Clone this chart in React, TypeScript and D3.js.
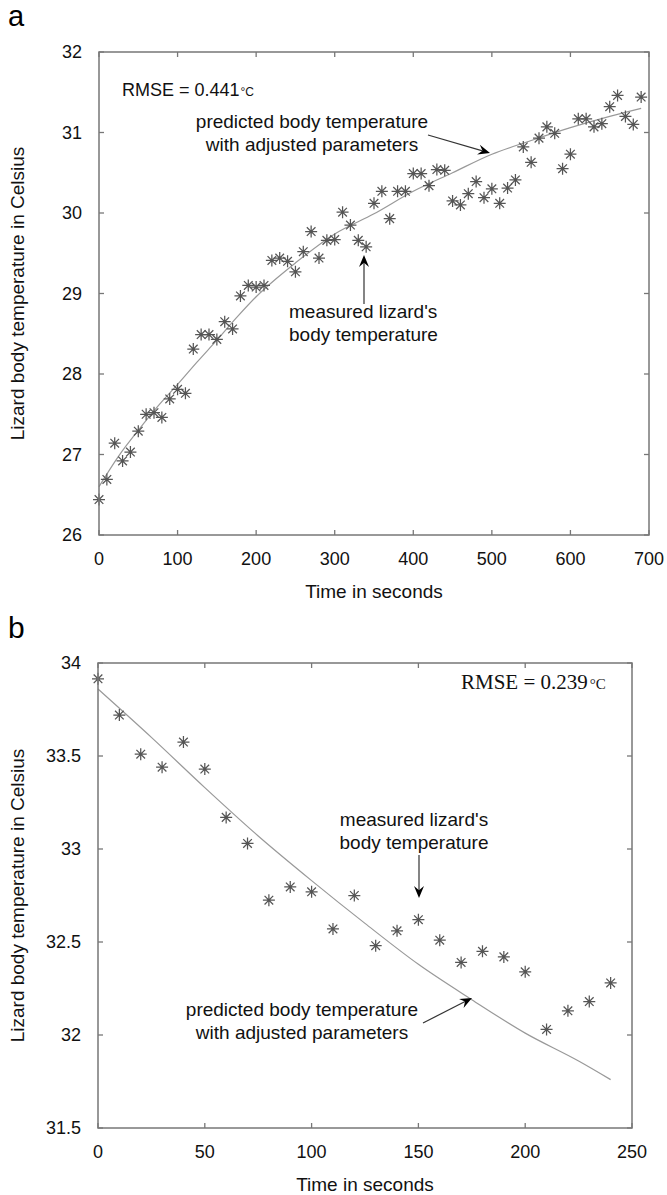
import React, { useRef, useEffect } from "react";
import * as d3 from "d3";

// panel a: measured body temperature every 10 s
const timeA = [0, 10, 20, 30, 40, 50, 60, 70, 80, 90, 100, 110, 120, 130, 140, 150, 160, 170, 180, 190,
  200, 210, 220, 230, 240, 250, 260, 270, 280, 290, 300, 310, 320, 330, 340, 350, 360, 370, 380, 390,
  400, 410, 420, 430, 440, 450, 460, 470, 480, 490, 500, 510, 520, 530, 540, 550, 560, 570, 580, 590,
  600, 610, 620, 630, 640, 650, 660, 670, 680, 690];
const measuredA = [26.44, 26.69, 27.14, 26.92, 27.03, 27.29, 27.5, 27.52, 27.46, 27.69, 27.81, 27.76, 28.31, 28.49, 28.49, 28.43, 28.65, 28.56, 28.97, 29.1,
  29.08, 29.1, 29.41, 29.44, 29.4, 29.27, 29.52, 29.77, 29.44, 29.66, 29.67, 30.01, 29.85, 29.66, 29.58, 30.12, 30.27, 29.93, 30.27, 30.27,
  30.49, 30.49, 30.34, 30.54, 30.53, 30.15, 30.1, 30.24, 30.39, 30.19, 30.3, 30.12, 30.31, 30.41, 30.82, 30.63, 30.93, 31.07, 30.99, 30.55,
  30.73, 31.17, 31.17, 31.07, 31.11, 31.32, 31.46, 31.2, 31.1, 31.44];
const predTimeA = [0, 25, 50, 75, 100, 125, 150, 175, 200, 225, 250, 300, 350, 400, 450, 500, 550, 600, 650, 690];
const predictedA = [26.6, 26.98, 27.3, 27.6, 27.87, 28.15, 28.42, 28.7, 28.96, 29.18, 29.38, 29.74, 29.99, 30.27, 30.5, 30.73, 30.9, 31.06, 31.2, 31.3];
const xTicksA = [0, 100, 200, 300, 400, 500, 600, 700];
const yTicksA = [26, 27, 28, 29, 30, 31, 32];

// panel b
const timeB = [0, 10, 20, 30, 40, 50, 60, 70, 80, 90, 100, 110, 120, 130, 140, 150, 160, 170, 180, 190, 200, 210, 220, 230, 240];
const measuredB = [33.915, 33.72, 33.51, 33.44, 33.575, 33.43, 33.17, 33.03, 32.725, 32.796, 32.77, 32.57, 32.75, 32.48, 32.56, 32.62,
  32.51, 32.39, 32.45, 32.42, 32.34, 32.03, 32.13, 32.18, 32.28];
const predTimeB = [0, 25, 50, 75, 100, 125, 150, 175, 200, 225, 240];
const predictedB = [33.86, 33.6, 33.33, 33.07, 32.83, 32.6, 32.38, 32.19, 32.01, 31.86, 31.76];
const xTicksB = [0, 50, 100, 150, 200, 250];
const yTicksB = [31.5, 32, 32.5, 33, 33.5, 34];

const SANS = "'Liberation Sans', Arial, sans-serif";
const SERIF = "'Liberation Serif', 'Times New Roman', serif";

const drawArrow = (g, x1, y1, x2, y2) => {
  const ang = Math.atan2(y2 - y1, x2 - x1);
  const L = 12, W = 5;
  const cx = Math.cos(ang), sx = Math.sin(ang);
  const bx = x2 - L * cx, by = y2 - L * sx;
  const nx = x2 - L * 0.65 * cx, ny = y2 - L * 0.65 * sx;
  g.append("line").attr("x1", x1).attr("y1", y1).attr("x2", nx).attr("y2", ny)
    .attr("stroke", "#333").attr("stroke-width", 1.2);
  g.append("path")
    .attr("d", `M${x2},${y2} L${bx - W * sx},${by + W * cx} L${nx},${ny} L${bx + W * sx},${by - W * cx} Z`)
    .attr("fill", "#000");
};

const drawPanel = (svg, cfg) => {
  const { x0, x1, y0, y1, xDom, yDom, xTicks, yTicks, t, m, pt, p } = cfg;
  const x = d3.scaleLinear().domain(xDom).range([x0, x1]);
  const y = d3.scaleLinear().domain(yDom).range([y1, y0]);
  const g = svg.append("g");

  // curve
  const line = d3.line().x((d) => x(d[0])).y((d) => y(d[1])).curve(d3.curveMonotoneX);
  g.append("path").datum(pt.map((v, i) => [v, p[i]]))
    .attr("d", line).attr("fill", "none").attr("stroke", "#999").attr("stroke-width", 1.2);

  // asterisk markers
  const r = 6, rd = r * 0.72;
  const star = `M0,${-r}V${r}M${-r},0H${r}M${-rd},${-rd}L${rd},${rd}M${-rd},${rd}L${rd},${-rd}`;
  g.selectAll(".pt").data(t.map((v, i) => [v, m[i]])).enter().append("path")
    .attr("transform", (d) => `translate(${x(d[0])},${y(d[1])})`)
    .attr("d", star).attr("stroke", "#555").attr("stroke-width", 1.25).attr("fill", "none");

  // box
  g.append("rect").attr("x", x0).attr("y", y0).attr("width", x1 - x0).attr("height", y1 - y0)
    .attr("fill", "none").attr("stroke", "#777").attr("stroke-width", 1.5);

  // inward ticks on all sides
  const tl = 5;
  xTicks.forEach((v) => {
    g.append("line").attr("x1", x(v)).attr("x2", x(v)).attr("y1", y1).attr("y2", y1 - tl).attr("stroke", "#777").attr("stroke-width", 1.3);
    g.append("line").attr("x1", x(v)).attr("x2", x(v)).attr("y1", y0).attr("y2", y0 + tl).attr("stroke", "#777").attr("stroke-width", 1.3);
    g.append("text").attr("x", x(v)).attr("y", y1 + 30).attr("text-anchor", "middle")
      .attr("font-family", SANS).attr("font-size", 18).attr("fill", "#111").text(v);
  });
  yTicks.forEach((v) => {
    g.append("line").attr("x1", x0).attr("x2", x0 + tl).attr("y1", y(v)).attr("y2", y(v)).attr("stroke", "#777").attr("stroke-width", 1.3);
    g.append("line").attr("x1", x1).attr("x2", x1 - tl).attr("y1", y(v)).attr("y2", y(v)).attr("stroke", "#777").attr("stroke-width", 1.3);
    g.append("text").attr("x", x0 - 17).attr("y", y(v) + 6).attr("text-anchor", "end")
      .attr("font-family", SANS).attr("font-size", 18).attr("fill", "#111").text(v);
  });

  // axis titles
  g.append("text").attr("x", (x0 + x1) / 2).attr("y", y1 + 63).attr("text-anchor", "middle")
    .attr("font-family", SANS).attr("font-size", 19).attr("fill", "#111").text("Time in seconds");
  g.append("text").attr("transform", `translate(24,${(y0 + y1) / 2}) rotate(-90)`).attr("text-anchor", "middle")
    .attr("font-family", SANS).attr("font-size", 19).attr("fill", "#111").text("Lizard body temperature in Celsius");
  return g;
};

const addLines = (g, lines, xc, yb, anchor, family, size) => {
  lines.forEach((s, i) => {
    g.append("text").attr("x", xc).attr("y", yb + i * 23).attr("text-anchor", anchor)
      .attr("font-family", family).attr("font-size", size).attr("fill", "#111").text(s);
  });
};

const App = () => {
  const ref = useRef(null);

  useEffect(() => {
    const svg = d3.select(ref.current);
    svg.selectAll("*").remove();
    svg.append("rect").attr("width", 667).attr("height", 1195).attr("fill", "#fff");

    // panel a
    svg.append("text").attr("x", 8).attr("y", 26).attr("font-family", SANS).attr("font-size", 29).text("a");
    const ga = drawPanel(svg, {
      x0: 99, x1: 649, y0: 52, y1: 535, xDom: [0, 700], yDom: [26, 32],
      xTicks: xTicksA, yTicks: yTicksA, t: timeA, m: measuredA, pt: predTimeA, p: predictedA,
    });
    const ra = ga.append("text").attr("x", 122).attr("y", 96).attr("font-family", SANS).attr("font-size", 18).attr("fill", "#111");
    ra.append("tspan").text("RMSE = 0.441");
    ra.append("tspan").attr("font-size", 12).attr("dx", 1).text("°C");
    addLines(ga, ["predicted body temperature", "with adjusted parameters"], 312, 128, "middle", SANS, 19);
    drawArrow(ga, 428, 135, 490, 153);
    addLines(ga, ["measured lizard's", "body temperature"], 289, 318, "start", SANS, 19);
    drawArrow(ga, 364, 304, 364, 255);

    // panel b
    svg.append("text").attr("x", 8).attr("y", 638).attr("font-family", SANS).attr("font-size", 30).text("b");
    const gb = drawPanel(svg, {
      x0: 98, x1: 632, y0: 663, y1: 1128, xDom: [0, 250], yDom: [31.5, 34],
      xTicks: xTicksB, yTicks: yTicksB, t: timeB, m: measuredB, pt: predTimeB, p: predictedB,
    });
    const rb = gb.append("text").attr("x", 461).attr("y", 689).attr("font-family", SERIF).attr("font-size", 21).attr("fill", "#111");
    rb.append("tspan").text("RMSE = 0.239");
    rb.append("tspan").attr("font-size", 15).attr("dx", 2).text("°C");
    addLines(gb, ["measured lizard's", "body temperature"], 414, 826, "middle", SANS, 19);
    drawArrow(gb, 419, 855, 419, 898);
    addLines(gb, ["predicted body temperature", "with adjusted parameters"], 302, 1016, "middle", SANS, 19);
    drawArrow(gb, 423, 1023, 472, 998);
  }, []);

  return (
    <div>
      <svg ref={ref} width={667} height={1195} style={{ position: "absolute", left: 0, top: 0 }} />
    </div>
  );
};

export default App;
